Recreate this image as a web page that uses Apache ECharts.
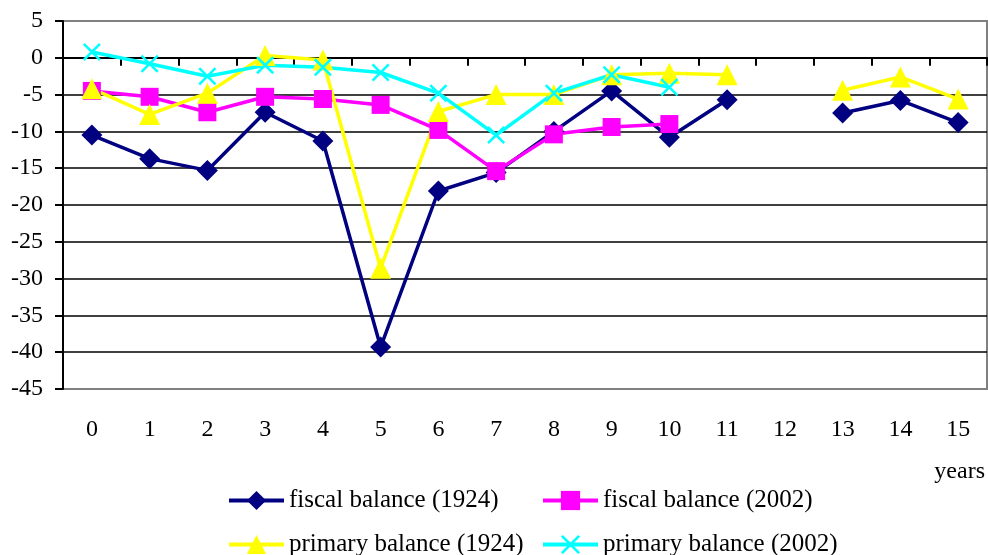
<!DOCTYPE html>
<html>
<head>
<meta charset="utf-8">
<script src="https://cdn.jsdelivr.net/npm/echarts@6/dist/echarts.min.js"></script>
<style>
  html, body { margin: 0; padding: 0; background: #fff; }
  #chart { width: 988px; height: 555px; }
</style>
</head>
<body>
<div id="chart"></div>
<script>
// Years after the crisis
const years = ['0','1','2','3','4','5','6','7','8','9','10','11','12','13','14','15'];

// Balances, % of GDP (null = no observation)
const fiscal1924  = [-10.5, -13.7, -15.3, -7.4, -11.3, -39.3, -18.1, -15.6, -10.0, -4.5, -10.8, -5.7, null, -7.5, -5.8, -8.8];
const fiscal2002  = [-4.5, -5.3, -7.4, -5.3, -5.6, -6.4, -9.8, -15.4, -10.4, -9.4, -9.0, null, null, null, null, null];
const primary1924 = [-4.2, -7.7, -4.8, 0.3, -0.3, -28.6, -7.3, -5.0, -5.0, -2.3, -2.1, -2.3, null, -4.4, -2.6, -5.6];
const primary2002 = [0.8, -0.8, -2.5, -1.0, -1.3, -2.0, -4.8, -10.5, -4.8, -2.3, -4.0, null, null, null, null, null];

const yTicks = { min: -45, max: 5, step: 5 };

const FONT = "'Liberation Serif', 'Times New Roman', serif";
const crossPath = 'path://M0,1 L1,0 L5,4 L9,0 L10,1 L6,5 L10,9 L9,10 L5,6 L1,10 L0,9 L4,5 Z';

function lineSeries(name, data, color, symbol, size) {
  return {
    name: name,
    type: 'line',
    data: data,
    connectNulls: false,
    symbol: symbol,
    symbolSize: size,
    showAllSymbol: true,
    lineStyle: { color: color, width: 3.5 },
    itemStyle: { color: color, borderWidth: 0 },
    emphasis: { disabled: true },
    animation: false
  };
}

// one legend entry per block so the two columns line up
function legendItem(name, left, top) {
  return {
    data: [name],
    left: left, top: top,
    itemWidth: 55, itemHeight: 24, itemGap: 6,
    lineStyle: { width: 4 },
    textStyle: { fontFamily: FONT, fontSize: 25, color: '#000' },
    selectedMode: false
  };
}

const chart = echarts.init(document.getElementById('chart'));

chart.setOption({
  backgroundColor: '#fff',
  textStyle: { fontFamily: FONT },
  grid: {
    left: 63, right: 1, top: 21, bottom: 166,
    show: true, borderColor: '#808080', borderWidth: 2, backgroundColor: 'transparent'
  },
  legend: [
    legendItem('fiscal balance (1924)', 222, 483),
    legendItem('fiscal balance (2002)', 536, 483),
    legendItem('primary balance (1924)', 222, 527),
    legendItem('primary balance (2002)', 536, 527)
  ],
  xAxis: [
    {
      type: 'category',
      data: years,
      boundaryGap: true,
      axisLine: { onZero: true, lineStyle: { color: '#000', width: 2 } },
      axisTick: { show: true, length: 8, lineStyle: { color: '#000', width: 2 } },
      axisLabel: { show: false },
      splitLine: { show: false }
    },
    {
      type: 'category',
      data: years,
      boundaryGap: true,
      position: 'bottom',
      offset: 0,
      axisLine: { show: false, onZero: false },
      axisTick: { show: false },
      axisLabel: { show: true, margin: 29, fontSize: 24, fontFamily: FONT, color: '#000' },
      splitLine: { show: false }
    }
  ],
  yAxis: {
    type: 'value',
    min: yTicks.min, max: yTicks.max, interval: yTicks.step,
    axisLine: { show: true, onZero: false, lineStyle: { color: '#000', width: 2 } },
    axisTick: { show: true, length: 8, lineStyle: { color: '#000', width: 2 } },
    axisLabel: { margin: 20, fontSize: 24, fontFamily: FONT, color: '#000' },
    splitLine: { show: true, showMinLine: false, showMaxLine: false, lineStyle: { color: '#000', width: 1.5 } }
  },
  graphic: [
    {
      type: 'text', right: 3, top: 460,
      style: { text: 'years', font: '24px ' + FONT, fill: '#000' }
    }
  ],
  series: [
    lineSeries('fiscal balance (1924)', fiscal1924, '#000080', 'diamond', 21),
    lineSeries('fiscal balance (2002)', fiscal2002, '#FF00FF', 'rect', 18),
    lineSeries('primary balance (1924)', primary1924, '#FFFF00', 'triangle', 21),
    lineSeries('primary balance (2002)', primary2002, '#00FFFF', crossPath, 18)
  ]
});
</script>
</body>
</html>
